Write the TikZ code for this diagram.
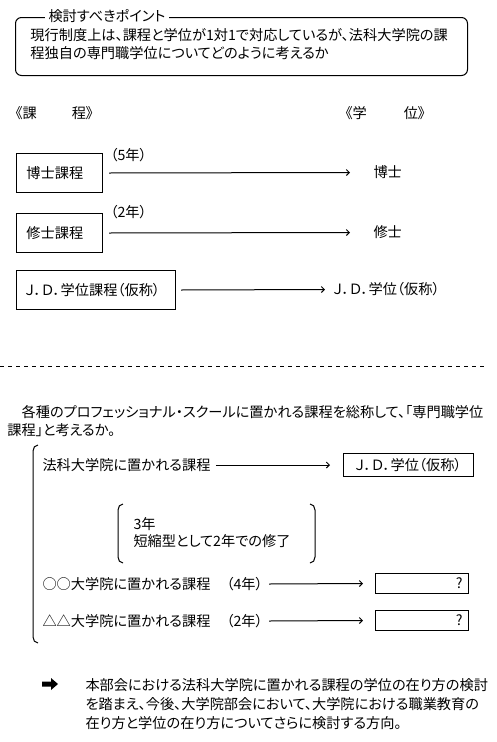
\documentclass[tikz,border=0pt]{standalone}
\usepackage{fontspec}
\setmainfont{Noto Sans CJK JP}[RawFeature=+palt]
\usetikzlibrary{arrows.meta}
\begin{document}
\begin{tikzpicture}[x=1pt,y=-1pt,
  font=\fontsize{14.2}{18}\selectfont,
  every path/.style={line width=1pt},
  txt/.style={anchor=west, inner sep=0pt},
  box/.style={draw, line width=1pt, anchor=north west, inner ysep=0pt, align=left},
  qbox/.style={draw, line width=1pt, anchor=north west, minimum width=93pt, minimum height=20pt, inner sep=0pt},
  arr/.style={-{Straight Barb[length=3pt,width=6pt]}, line width=1pt}]
\useasboundingbox (0,0) rectangle (496,742);

% top rounded box
\node[draw, rounded corners=6pt, minimum width=452pt, minimum height=58pt, anchor=north west, inner sep=0pt] (pt) at (15,17) {};
\node[fill=white, inner xsep=4pt, inner ysep=0pt, anchor=west] (ptt) at (44,16) {検討すべきポイント};
\node[txt] (l1) at (30,35) {現行制度上は、課程と学位が1対1で対応しているが、法科大学院の課};
\node[txt] (l2) at (30,53) {程独自の専門職学位についてどのように考えるか};

% headers
\node[txt] (hk) at (15,113) {《課\hspace{35pt}程》};
\node[txt] (hg) at (345,113) {《学\hspace{37pt}位》};

% rows
\node[box, text width=66pt, inner xsep=10pt, minimum height=39pt] (b1) at (16,153) {博士課程};
\node[txt] (y1) at (110,155) {（5年）};
\node[txt] (d1) at (373,172.5) {博士};
\draw[arr] ([xshift=6pt]b1.east) -- ([xshift=-23pt]d1.west);

\node[box, text width=66pt, inner xsep=10pt, minimum height=39pt] (b2) at (16,213) {修士課程};
\node[txt] (y2) at (110,212) {（2年）};
\node[txt] (d2) at (373,232.5) {修士};
\draw[arr] ([xshift=6pt]b2.east) -- ([xshift=-23pt]d2.west);

\node[box, text width=141pt, inner xsep=9pt, minimum height=39pt] (b3) at (16,270) {Ｊ．Ｄ．学位課程（仮称）};
\node[txt] (d3) at (333,289.5) {Ｊ．Ｄ．学位（仮称）};
\draw[arr] ([xshift=5pt]b3.east) -- ([xshift=-8pt]d3.west);

% dashed separator
\coordinate (s1) at (0,366);
\coordinate (s2) at (484,366);
\draw[dash pattern=on 4pt off 4pt] (s1) -- (s2);

% paragraph
\node[txt] (p1) at (7,412) {　各種のプロフェッショナル・スクールに置かれる課程を総称して、「専門職学位};
\node[txt] (p2) at (7,430) {課程」と考えるか。};

% big bracket
\draw (38,445) to[out=180,in=90] (33,451) -- (33,637) to[out=-90,in=180] (38,643);

\node[txt] (r1) at (42,465) {法科大学院に置かれる課程};
\node[draw, anchor=north west, minimum width=130pt, minimum height=23pt, inner sep=0pt] (jd) at (343,453) {Ｊ．Ｄ．学位（仮称）};
\draw[arr] ([xshift=5pt]r1.east) -- ([xshift=-13pt]jd.west);

% inner brackets
\draw (123,504) to[out=180,in=90] (118,510) -- (118,557) to[out=-90,in=180] (123,563);
\draw (310,504) to[out=0,in=90] (315,510) -- (315,557) to[out=-90,in=0] (310,563);
\node[txt] (i1) at (133,524) {3年};
\node[txt] (i2) at (133,541) {短縮型として2年での修了};

\node[txt] (r2) at (42,584) {○○大学院に置かれる課程\hspace{16pt}（4年）};
\node[qbox] (q1) at (375,573) {};
\node[anchor=east, inner sep=0pt] (q1t) at ([xshift=-6pt]q1.east) {?};
\draw[arr] ([xshift=6pt]r2.east) -- ([xshift=-12pt]q1.west);

\node[txt] (r3) at (42,621) {△△大学院に置かれる課程\hspace{16pt}（2年）};
\node[qbox] (q2) at (375,610) {};
\node[anchor=east, inner sep=0pt] (q2t) at ([xshift=-6pt]q2.east) {?};
\draw[arr] ([xshift=6pt]r3.east) -- ([xshift=-12pt]q2.west);

% conclusion: heavy arrow mark
\fill (42,681.5) -- (51,681.5) -- (51,678) -- (58,684) -- (51,690) -- (51,686.5) -- (42,686.5) -- cycle;
\node[txt] (c1) at (85,685) {本部会における法科大学院に置かれる課程の学位の在り方の検討};
\node[txt] (c2) at (85,704) {を踏まえ、今後、大学院部会において、大学院における職業教育の};
\node[txt] (c3) at (85,723) {在り方と学位の在り方についてさらに検討する方向。};
\end{tikzpicture}
\end{document}
